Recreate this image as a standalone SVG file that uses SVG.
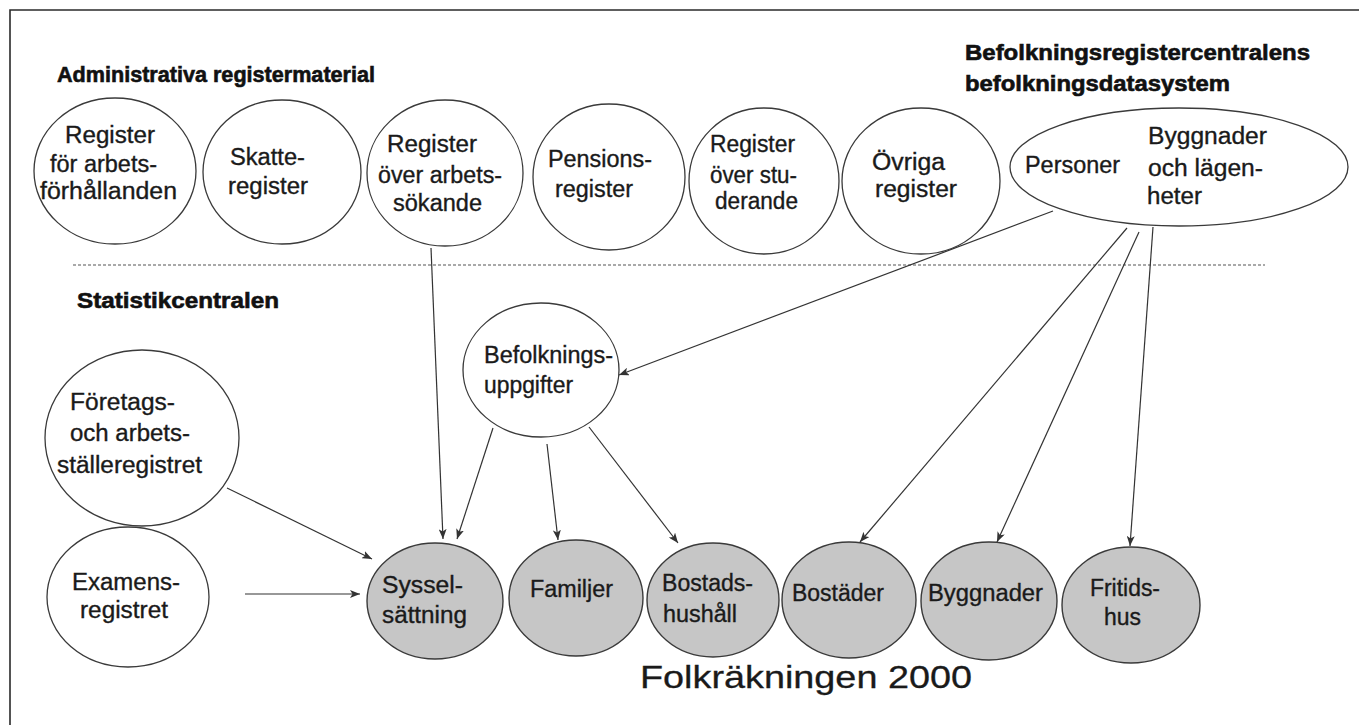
<svg xmlns="http://www.w3.org/2000/svg" width="1359" height="725" viewBox="0 0 1359 725">
<defs>
<style>
.bg{fill:#ffffff}
.frame{fill:none;stroke:#2a2a2a;stroke-width:1.6}
.sep{fill:none;stroke:#555;stroke-width:1.2;stroke-dasharray:3 2}
.src{fill:#ffffff;stroke:#3a3a3a;stroke-width:1.3}
.out{fill:#c6c6c6;stroke:#3a3a3a;stroke-width:1.4}
.t{font-family:"Liberation Sans",Arial,sans-serif;font-size:23px;fill:#1a1a1a;stroke:#1a1a1a;stroke-width:0.35}
.h{font-family:"Liberation Sans",Arial,sans-serif;font-size:22px;font-weight:bold;fill:#111;stroke:#111;stroke-width:0.6}
.big{font-family:"Liberation Sans",Arial,sans-serif;font-size:32px;fill:#1a1a1a;stroke:#1a1a1a;stroke-width:0.3}
.c{fill:none;stroke:#333;stroke-width:1.2}
</style>
<marker id="arr" viewBox="0 0 10 8" refX="10" refY="4" markerWidth="10" markerHeight="8" markerUnits="userSpaceOnUse" orient="auto">
<path d="M0,0 L10,4 L0,8 L2.5,4 Z" fill="#333"/>
</marker>
</defs>
<rect class="bg" x="0" y="0" width="1359" height="725"/>
<path class="frame" d="M10,725 L10,10 L1359,10"/>
<line class="sep" x1="73" y1="265" x2="1265" y2="265"/>

<g id="titles">
<text class="h" x="57" y="82" textLength="318" lengthAdjust="spacingAndGlyphs">Administrativa registermaterial</text>
<text class="h" x="965" y="60" textLength="345" lengthAdjust="spacingAndGlyphs">Befolkningsregistercentralens</text>
<text class="h" x="965" y="91" textLength="265" lengthAdjust="spacingAndGlyphs">befolkningsdatasystem</text>
<text class="h" x="77" y="308" textLength="202" lengthAdjust="spacingAndGlyphs">Statistikcentralen</text>
<text class="big" x="640" y="688" textLength="332" lengthAdjust="spacingAndGlyphs">Folkräkningen 2000</text>
</g>

<g id="connectors">
<line class="c" x1="431" y1="248" x2="443" y2="539" marker-end="url(#arr)"/>
<line class="c" x1="1053" y1="211" x2="619" y2="375" marker-end="url(#arr)"/>
<line class="c" x1="1127" y1="228" x2="860" y2="542" marker-end="url(#arr)"/>
<line class="c" x1="1139" y1="232" x2="997" y2="542" marker-end="url(#arr)"/>
<line class="c" x1="1153" y1="227" x2="1130" y2="546" marker-end="url(#arr)"/>
<line class="c" x1="493" y1="428" x2="457" y2="539" marker-end="url(#arr)"/>
<line class="c" x1="547" y1="444" x2="558" y2="540" marker-end="url(#arr)"/>
<line class="c" x1="589" y1="427" x2="678" y2="543" marker-end="url(#arr)"/>
<line class="c" x1="227" y1="488" x2="372" y2="559" marker-end="url(#arr)"/>
<line class="c" x1="245" y1="594" x2="360" y2="594" marker-end="url(#arr)"/>
</g>

<g id="reg-arbetsforhallanden">
<ellipse class="src" cx="115" cy="171" rx="81" ry="73"/>
<text class="t" x="65" y="143" textLength="90" lengthAdjust="spacingAndGlyphs">Register</text>
<text class="t" x="50" y="172" textLength="107" lengthAdjust="spacingAndGlyphs">för arbets-</text>
<text class="t" x="40" y="199" textLength="137" lengthAdjust="spacingAndGlyphs">förhållanden</text>
</g>
<g id="skatteregister">
<ellipse class="src" cx="282" cy="172" rx="79" ry="72"/>
<text class="t" x="230" y="165" textLength="75" lengthAdjust="spacingAndGlyphs">Skatte-</text>
<text class="t" x="228" y="194" textLength="80" lengthAdjust="spacingAndGlyphs">register</text>
</g>
<g id="reg-arbetssokande">
<ellipse class="src" cx="445" cy="173" rx="78" ry="73"/>
<text class="t" x="387" y="152" textLength="90" lengthAdjust="spacingAndGlyphs">Register</text>
<text class="t" x="378" y="183" textLength="124" lengthAdjust="spacingAndGlyphs">över arbets-</text>
<text class="t" x="393" y="211" textLength="89" lengthAdjust="spacingAndGlyphs">sökande</text>
</g>
<g id="pensionsregister">
<ellipse class="src" cx="609" cy="177" rx="76" ry="73"/>
<text class="t" x="548" y="167" textLength="104" lengthAdjust="spacingAndGlyphs">Pensions-</text>
<text class="t" x="555" y="197" textLength="78" lengthAdjust="spacingAndGlyphs">register</text>
</g>
<g id="reg-studerande">
<ellipse class="src" cx="764" cy="181" rx="75" ry="73"/>
<text class="t" x="710" y="152" textLength="85" lengthAdjust="spacingAndGlyphs">Register</text>
<text class="t" x="710" y="183" textLength="87" lengthAdjust="spacingAndGlyphs">över stu-</text>
<text class="t" x="715" y="209" textLength="83" lengthAdjust="spacingAndGlyphs">derande</text>
</g>
<g id="ovriga-register">
<ellipse class="src" cx="921" cy="181" rx="79" ry="73"/>
<text class="t" x="872" y="170" textLength="73" lengthAdjust="spacingAndGlyphs">Övriga</text>
<text class="t" x="875" y="197" textLength="82" lengthAdjust="spacingAndGlyphs">register</text>
</g>
<g id="befolkningsdatasystem">
<ellipse class="src" cx="1179" cy="167" rx="169" ry="59"/>
<text class="t" x="1025" y="173" textLength="95" lengthAdjust="spacingAndGlyphs">Personer</text>
<text class="t" x="1148" y="144" textLength="119" lengthAdjust="spacingAndGlyphs">Byggnader</text>
<text class="t" x="1148" y="176" textLength="115" lengthAdjust="spacingAndGlyphs">och lägen-</text>
<text class="t" x="1147" y="204" textLength="55" lengthAdjust="spacingAndGlyphs">heter</text>
</g>

<g id="befolkningsuppgifter">
<ellipse class="src" cx="541" cy="370" rx="78" ry="67"/>
<text class="t" x="484" y="363" textLength="129" lengthAdjust="spacingAndGlyphs">Befolknings-</text>
<text class="t" x="484" y="393" textLength="89" lengthAdjust="spacingAndGlyphs">uppgifter</text>
</g>
<g id="foretagsregistret">
<ellipse class="src" cx="142" cy="438" rx="97" ry="88"/>
<text class="t" x="70" y="410" textLength="105" lengthAdjust="spacingAndGlyphs">Företags-</text>
<text class="t" x="70" y="441" textLength="120" lengthAdjust="spacingAndGlyphs">och arbets-</text>
<text class="t" x="57" y="473" textLength="145" lengthAdjust="spacingAndGlyphs">ställeregistret</text>
</g>
<g id="examensregistret">
<ellipse class="src" cx="128" cy="597" rx="81" ry="70"/>
<text class="t" x="72" y="590" textLength="108" lengthAdjust="spacingAndGlyphs">Examens-</text>
<text class="t" x="80" y="618" textLength="88" lengthAdjust="spacingAndGlyphs">registret</text>
</g>

<g id="sysselsattning">
<ellipse class="out" cx="435" cy="601" rx="68" ry="58"/>
<text class="t" x="382" y="593" textLength="81" lengthAdjust="spacingAndGlyphs">Syssel-</text>
<text class="t" x="382" y="623" textLength="85" lengthAdjust="spacingAndGlyphs">sättning</text>
</g>
<g id="familjer">
<ellipse class="out" cx="576" cy="598" rx="67" ry="58"/>
<text class="t" x="530" y="597" textLength="83" lengthAdjust="spacingAndGlyphs">Familjer</text>
</g>
<g id="bostadshushall">
<ellipse class="out" cx="713" cy="600" rx="66" ry="57"/>
<text class="t" x="662" y="591" textLength="91" lengthAdjust="spacingAndGlyphs">Bostads-</text>
<text class="t" x="663" y="622" textLength="74" lengthAdjust="spacingAndGlyphs">hushåll</text>
</g>
<g id="bostader">
<ellipse class="out" cx="849" cy="600" rx="67" ry="58"/>
<text class="t" x="792" y="601" textLength="92" lengthAdjust="spacingAndGlyphs">Bostäder</text>
</g>
<g id="byggnader">
<ellipse class="out" cx="989" cy="601" rx="68" ry="59"/>
<text class="t" x="928" y="601" textLength="115" lengthAdjust="spacingAndGlyphs">Byggnader</text>
</g>
<g id="fritidshus">
<ellipse class="out" cx="1131" cy="605" rx="69" ry="58"/>
<text class="t" x="1090" y="596" textLength="70" lengthAdjust="spacingAndGlyphs">Fritids-</text>
<text class="t" x="1104" y="625" textLength="37" lengthAdjust="spacingAndGlyphs">hus</text>
</g>
</svg>
